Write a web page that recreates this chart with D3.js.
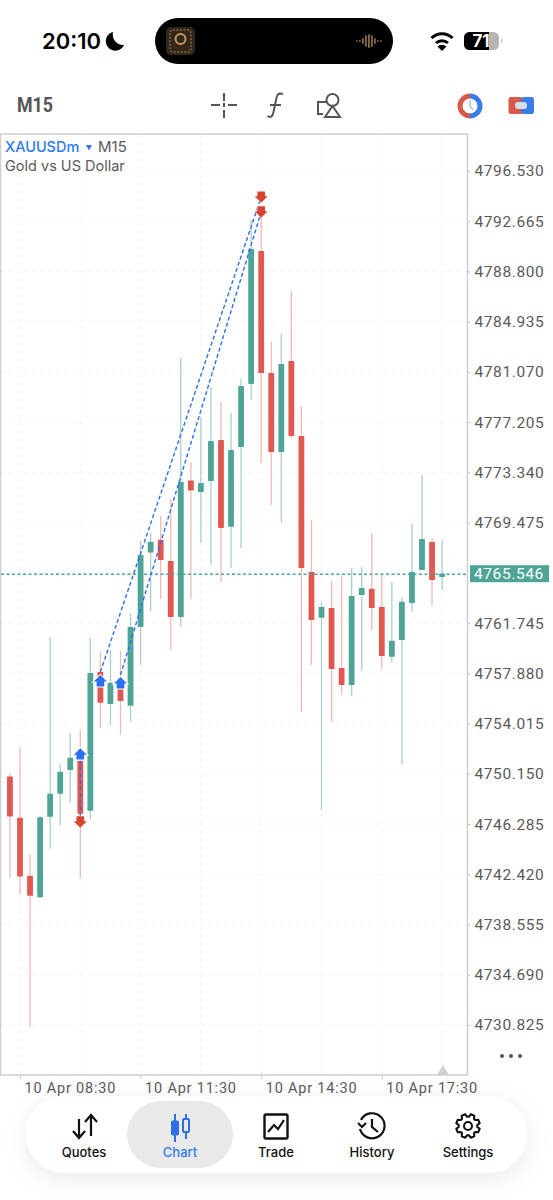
<!DOCTYPE html>
<html><head><meta charset="utf-8">
<script src="https://cdn.jsdelivr.net/npm/d3@7"></script>
<style>
html,body{margin:0;padding:0;background:#fff;width:553px;height:1200px;overflow:hidden}
svg{display:block}
text{font-family:Inter,Roboto,sans-serif}
</style></head><body>
<script>
const times=["08:15","08:30","08:45","09:00","09:15","09:30","09:45","10:00","10:15","10:30","10:45","11:00","11:15","11:30","11:45","12:00","12:15","12:30","12:45","13:00","13:15","13:30","13:45","14:00","14:15","14:30","14:45","15:00","15:15","15:30","15:45","16:00","16:15","16:30","16:45","17:00","17:15","17:30","17:45","18:00","18:15","18:30","18:45","19:00"];
const opens=[4749.94,4746.78,4742.30,4740.66,4746.84,4748.61,4750.45,4751.15,4747.30,4757.99,4755.53,4757.53,4755.38,4761.45,4767.17,4768.15,4766.53,4762.22,4772.71,4771.84,4772.68,4775.84,4769.15,4775.30,4780.15,4790.38,4780.99,4774.91,4781.91,4776.15,4765.68,4762.15,4762.91,4758.30,4756.99,4763.91,4764.38,4762.99,4759.15,4760.45,4763.30,4765.84,4767.99,4765.30];
const highs=[4750.15,4752.15,4743.99,4746.90,4760.68,4750.91,4753.30,4753.53,4760.61,4759.53,4759.68,4759.61,4762.53,4768.07,4768.68,4769.99,4771.30,4782.15,4774.15,4777.61,4779.91,4778.76,4777.91,4780.53,4792.76,4793.53,4783.38,4783.99,4787.30,4778.45,4769.68,4763.38,4764.99,4765.38,4765.99,4766.07,4768.68,4765.61,4764.91,4763.76,4769.38,4773.15,4768.30,4768.15];
const lows=[4742.15,4740.91,4730.68,4740.60,4744.38,4746.15,4747.91,4742.15,4746.61,4753.68,4753.91,4753.15,4754.15,4758.53,4762.68,4763.61,4759.68,4761.45,4763.61,4767.91,4766.22,4764.91,4765.99,4767.53,4778.91,4774.07,4770.84,4769.53,4775.99,4754.91,4758.53,4747.38,4754.15,4756.22,4756.15,4758.07,4761.22,4758.22,4758.76,4750.84,4762.61,4765.84,4763.07,4764.30];
const closes=[4746.86,4742.25,4740.76,4746.81,4748.61,4750.30,4751.38,4747.07,4757.91,4755.61,4757.15,4755.76,4761.45,4766.99,4768.01,4766.61,4762.22,4772.61,4771.94,4772.53,4775.76,4769.07,4775.07,4779.99,4790.53,4780.99,4774.91,4781.68,4776.15,4765.99,4761.99,4762.99,4758.22,4756.99,4763.84,4764.45,4762.91,4759.22,4760.38,4763.38,4765.68,4768.22,4765.07,4765.546];
const priceTicks=[4796.530,4792.665,4788.800,4784.935,4781.070,4777.205,4773.340,4769.475,4765.610,4761.745,4757.880,4754.015,4750.150,4746.285,4742.420,4738.555,4734.690,4730.825];
const priceLabels=[4796.530,4792.665,4788.800,4784.935,4781.070,4777.205,4773.340,4769.475,4761.745,4757.880,4754.015,4750.150,4746.285,4742.420,4738.555,4734.690,4730.825];
const timeTicks=["08:30","11:30","14:30","17:30"];
const timeGrid=["08:30","10:00","11:30","13:00","14:30","16:00","17:30","19:00"];
const lastPrice=4765.546;
const buyTimes=["10:00","10:30","11:00"];
const buyPrices=[4751.68,4757.30,4757.15];
const sellTimes=["10:00","14:30","14:30"];
const sellPrices=[4746.45,4794.53,4793.38];
const tradeFromTimes=["10:00","10:30","11:00"];
const tradeFromPrices=[4751.68,4757.99,4757.76];
const tradeToTimes=["10:00","14:30","14:30"];
const tradeToPrices=[4746.45,4794.53,4793.38];
const navLabels=["Quotes","Chart","Trade","History","Settings"];

const GREEN="#4ea597",RED="#e0584f",BLUE="#2b6ff0",DOWN="#d6452f",GREY="#5a5a5a";
const parse=t=>d3.timeParse("%Y-%m-%d %H:%M")("2026-04-10 "+t);
const fmt=d3.timeFormat("10 Apr %H:%M");
const L=1,R=467.5,T=134,B=1075;
const x=d3.scaleTime().domain([parse("08:30"),parse("17:30")]).range([20,381.8]);
const y=d3.scaleLinear().domain([4730.825,4796.53]).range([1025,171]);

const svg=d3.select("body").append("svg").attr("width",553).attr("height",1200);
const defs=svg.append("defs");
const f=defs.append("filter").attr("id","sh").attr("x","-10%").attr("y","-40%").attr("width","120%").attr("height","200%");
f.append("feDropShadow").attr("dx",0).attr("dy",6).attr("stdDeviation",12).attr("flood-color","#000").attr("flood-opacity",0.08);
const cp=defs.append("clipPath").attr("id","plot");
cp.append("rect").attr("x",L).attr("y",T).attr("width",R-L).attr("height",B-T);

svg.append("rect").attr("width",553).attr("height",1200).attr("fill","#fff");

// ---- status bar
const st=svg.append("g");
st.append("text").attr("x",42).attr("y",49).attr("font-size",22).attr("font-weight",600).attr("fill","#000").text("20:10");
st.append("path").attr("d","M113 32a9.5 9.5 0 1 0 11 13a10.5 10.5 0 0 1-11-13z").attr("fill","#000");
st.append("rect").attr("x",155).attr("y",18).attr("width",238).attr("height",46).attr("rx",23).attr("fill","#000");
st.append("rect").attr("x",166).attr("y",27).attr("width",29).attr("height",28).attr("rx",5).attr("fill","#33261a");
st.append("circle").attr("cx",180.5).attr("cy",39).attr("r",5).attr("fill","none").attr("stroke","#c09a5e").attr("stroke-width",2);
st.append("rect").attr("x",170).attr("y",30).attr("width",21).attr("height",22).attr("rx",3).attr("fill","none").attr("stroke","#6e5a3a").attr("stroke-width",2).attr("stroke-dasharray","2 1.5");
st.selectAll("rect.bar").data([1,1,3,6,7,6,3,1,1]).join("rect").attr("class","bar")
 .attr("x",(d,i)=>356+i*3).attr("y",d=>41-d).attr("width",1.8).attr("height",d=>d*2).attr("rx",.9).attr("fill","#8a6a45");
const wifi=st.append("g").attr("fill","none").attr("stroke","#000").attr("stroke-width",3).attr("stroke-linecap","butt");
wifi.append("path").attr("d","M431.5 38a15 15 0 0 1 21 0");
wifi.append("path").attr("d","M436 43a9 9 0 0 1 12 0");
st.append("path").attr("d","M442 51l-4.5-4.5a6.5 6.5 0 0 1 9 0z").attr("fill","#000");
st.append("rect").attr("x",464).attr("y",32).attr("width",35).attr("height",18).attr("rx",5.5).attr("fill","#b5b5b5");
st.append("path").attr("d","M469.5 32H489V50H469.5a5.5 5.5 0 0 1-5.5-5.5V37.5a5.5 5.5 0 0 1 5.5-5.5z").attr("fill","#000");
st.append("path").attr("d","M501 38a3.5 3.5 0 0 1 0 6z").attr("fill","#ccc");
st.append("text").attr("x",481).attr("y",47).attr("text-anchor","middle").attr("font-size",17).attr("font-weight",700).attr("fill","#fff").text("71");

// ---- toolbar
const tb=svg.append("g");
tb.append("text").attr("x",17).attr("y",112).attr("font-size",20).attr("font-weight",700).attr("fill","#555").style("font-family","Roboto").attr("textLength",36).attr("lengthAdjust","spacingAndGlyphs").text("M15");
const ic=tb.append("g").attr("fill","none").attr("stroke","#555").attr("stroke-width",2);
ic.append("path").attr("d","M211 105h9M228 105h9M224 93v8M224 103v4M224 110v8");
ic.append("path").attr("d","M283 94c-5-2-6 1-7 6l-2.5 12c-1 5-3 6-6 4M270 105h11");
ic.append("path").attr("d","M326 102h-8v12h5");
ic.append("circle").attr("cx",332.5).attr("cy",100).attr("r",6);
ic.append("path").attr("d","M325 117l7.5-11 7.5 11z");
tb.append("path").attr("d","M470 96a10 10 0 0 0 0 20").attr("fill","none").attr("stroke","#d75a49").attr("stroke-width",5);
tb.append("path").attr("d","M470 96a10 10 0 0 1 0 20").attr("fill","none").attr("stroke","#3a7de8").attr("stroke-width",5);
tb.append("path").attr("d","M470 100v6l3 4").attr("fill","none").attr("stroke","#b8c2cc").attr("stroke-width",1.6);
tb.append("rect").attr("x",508.5).attr("y",97).attr("width",14).attr("height",17).attr("rx",2.5).attr("fill","#d75a49");
tb.append("rect").attr("x",521).attr("y",97).attr("width",13).attr("height",17).attr("rx",2.5).attr("fill","#3a7de8");
tb.append("rect").attr("x",515).attr("y",102).attr("width",12).attr("height",7).attr("rx",3).attr("fill","#d5dde6");

// ---- grid
const grid=svg.append("g").attr("clip-path","url(#plot)").attr("stroke","#f2f2f2").attr("stroke-width",1).attr("stroke-dasharray","3 5");
grid.selectAll("line.h").data(priceTicks).join("line").attr("class","h").attr("x1",L).attr("x2",R).attr("y1",d=>y(d)).attr("y2",d=>y(d));
grid.selectAll("line.v").data(timeGrid).join("line").attr("class","v").attr("x1",d=>x(parse(d))).attr("x2",d=>x(parse(d))).attr("y1",T).attr("y2",B);

// ---- candles
const idx=d3.range(times.length);
const plot=svg.append("g").attr("clip-path","url(#plot)");
const up=i=>closes[i]>=opens[i];
plot.selectAll("line.w").data(idx).join("line").attr("class","w")
 .attr("x1",i=>x(parse(times[i]))).attr("x2",i=>x(parse(times[i])))
 .attr("y1",i=>y(highs[i])).attr("y2",i=>y(lows[i]))
 .attr("stroke",i=>up(i)?"#a9d0ca":"#f3b9b4").attr("stroke-width",1.3);
plot.selectAll("rect.b").data(idx).join("rect").attr("class","b")
 .attr("x",i=>x(parse(times[i]))-2.9).attr("width",5.8)
 .attr("y",i=>y(Math.max(opens[i],closes[i])))
 .attr("height",i=>Math.max(2,Math.abs(y(opens[i])-y(closes[i]))))
 .attr("rx",.6).attr("fill",i=>up(i)?GREEN:RED);

// ---- last price line
plot.append("line").attr("x1",L).attr("x2",R).attr("y1",y(lastPrice)+.5).attr("y2",y(lastPrice)+.5)
 .attr("stroke",GREEN).attr("stroke-width",1.4).attr("stroke-dasharray","3 2.5");

// ---- trades
plot.selectAll("line.t").data(d3.range(tradeFromTimes.length)).join("line").attr("class","t")
 .attr("x1",i=>x(parse(tradeFromTimes[i]))).attr("y1",i=>y(tradeFromPrices[i]))
 .attr("x2",i=>x(parse(tradeToTimes[i]))).attr("y2",i=>y(tradeToPrices[i]))
 .attr("stroke",BLUE).attr("stroke-width",1.4).attr("stroke-dasharray","4 2.5");
const arrow="M0-5.8L6.5 0.7H3.8V5.6H-3.8V0.7H-6.5Z";
plot.selectAll("path.bu").data(d3.range(buyTimes.length)).join("path").attr("class","bu").attr("d",arrow)
 .attr("transform",i=>`translate(${x(parse(buyTimes[i]))},${y(buyPrices[i])})`)
 .attr("fill",BLUE).attr("stroke","#fff").attr("stroke-width",2).attr("paint-order","stroke");
plot.selectAll("path.se").data(d3.range(sellTimes.length)).join("path").attr("class","se").attr("d",arrow)
 .attr("transform",i=>`translate(${x(parse(sellTimes[i]))},${y(sellPrices[i])}) rotate(180)`)
 .attr("fill",DOWN).attr("stroke","#fff").attr("stroke-width",1).attr("paint-order","stroke");

// ---- frame
svg.append("rect").attr("x",0.5).attr("y",T).attr("width",R-0.5).attr("height",B-T).attr("fill","none").attr("stroke","#cfcfcf").attr("stroke-width",1.5);

// ---- axes
const ay=svg.append("g").attr("transform",`translate(${R},0)`)
 .call(d3.axisRight(y).tickValues(priceLabels).tickSize(3).tickPadding(4).tickFormat(d3.format(".3f")));
ay.select(".domain").remove();
ay.selectAll("line").attr("stroke","#c8c8c8");
ay.selectAll("text").style("font-family","Roboto").attr("font-size",15.5).style("letter-spacing","0.6px").attr("fill",GREY);
const ax=svg.append("g").attr("transform",`translate(0,${B})`)
 .call(d3.axisBottom(x).tickValues(timeTicks.map(parse)).tickSize(4).tickPadding(4).tickFormat(fmt));
ax.select(".domain").remove();
ax.selectAll("line").attr("stroke","#c8c8c8");
ax.selectAll("text").style("font-family","Roboto").attr("text-anchor","start").attr("dx",4).attr("font-size",14.5).style("letter-spacing","0.8px").attr("fill",GREY);

// ---- last price tag
svg.append("rect").attr("x",470).attr("y",y(lastPrice)-8.5).attr("width",79).attr("height",17).attr("fill",GREEN);
svg.append("text").attr("x",474).attr("y",y(lastPrice)+5.5).style("font-family","Roboto").attr("font-size",15.5).style("letter-spacing","0.6px").attr("fill","#fff").text(d3.format(".3f")(lastPrice));

// ---- legend
svg.append("text").attr("x",5).attr("y",152).attr("font-size",14.5).attr("fill","#2f7bf0").attr("font-weight",500).text("XAUUSDm");
svg.append("path").attr("d","M86 145h6l-3 5.5z").attr("fill","#2f7bf0");
svg.append("text").attr("x",98).attr("y",152).attr("font-size",15).attr("fill",GREY).text("M15");
svg.append("text").attr("x",5).attr("y",171).attr("font-size",14.5).attr("fill",GREY).text("Gold vs US Dollar");

// ---- dots & shift triangle
svg.selectAll("circle.dot").data([0,1,2]).join("circle").attr("class","dot").attr("cx",d=>502+d*9).attr("cy",1056).attr("r",2).attr("fill","#555");
svg.append("path").attr("d","M437 1075l6-10 6 10z").attr("fill","#cfcfcf");

// ---- nav
const nav=svg.append("g");
nav.append("rect").attr("x",26).attr("y",1096).attr("width",501).attr("height",77).attr("rx",38.5).attr("fill","#fff").attr("filter","url(#sh)");
nav.append("rect").attr("x",127).attr("y",1101).attr("width",106).attr("height",67).attr("rx",33.5).attr("fill","#e9e9e9");
nav.selectAll("text.n").data(navLabels).join("text").attr("class","n")
 .attr("x",(d,i)=>84+i*96).attr("y",1157).attr("text-anchor","middle").attr("font-size",13).attr("font-weight",500)
 .attr("fill",d=>d==="Chart"?"#2f7bf0":"#111").text(d=>d);
const k=nav.append("g").attr("fill","none").attr("stroke","#111").attr("stroke-width",2.2);
k.append("path").attr("d","M79 1119v19M73 1131l6 7 6-7M91 1136v-20M85 1122l6-7 6 7");
const cb=nav.append("g").attr("fill","#2f6fe0").attr("stroke","#2f6fe0");
cb.append("path").attr("d","M175 1114v28M186 1114v25").attr("stroke-width",2);
cb.append("rect").attr("x",171.5).attr("y",1121).attr("width",7).attr("height",14).attr("rx",1);
cb.append("rect").attr("x",183).attr("y",1119).attr("width",6).attr("height",13).attr("rx",1).attr("fill","#e9e9e9").attr("stroke-width",2);
k.append("rect").attr("x",264.5).attr("y",1114.5).attr("width",23).attr("height",24).attr("rx",1.5).attr("stroke-width",2.4);
k.append("path").attr("d","M268 1132l6-7 4 4 6-9");
k.append("path").attr("d","M361 1121a12.5 12.5 0 1 1-1 9M358 1124l4 4 4-4M372 1120v8l6 5").attr("transform","translate(0,-1)");
const gearPts=d3.range(8).flatMap(n=>{const a=n*Math.PI/4-Math.PI/8,s=0.2;
 return [[a-s*1.5,9.3],[a-s*.8,12],[a+s*.8,12],[a+s*1.5,9.3]];});
nav.append("path").attr("d",d3.lineRadial().angle(d=>d[0]).radius(d=>d[1]).curve(d3.curveLinearClosed)(gearPts))
 .attr("transform","translate(468,1126)").attr("fill","none").attr("stroke","#111").attr("stroke-width",2.1).attr("stroke-linejoin","round");
nav.append("circle").attr("cx",468).attr("cy",1126).attr("r",4).attr("fill","none").attr("stroke","#111").attr("stroke-width",2.1);
</script>
</body></html>
